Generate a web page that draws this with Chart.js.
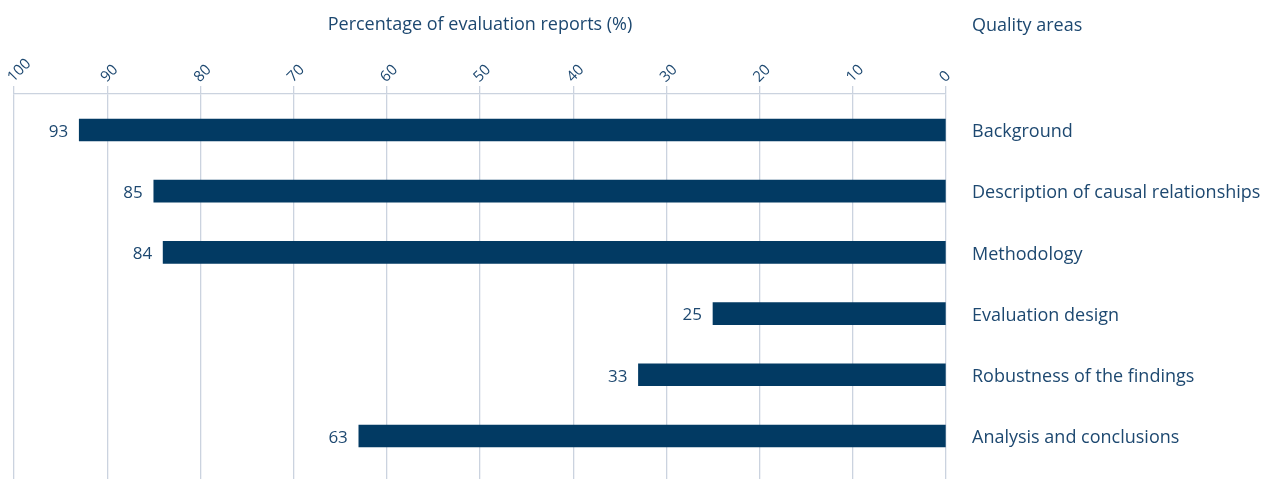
<!DOCTYPE html>
<html>
<head>
<meta charset="utf-8">
<script src="https://cdn.jsdelivr.net/npm/chart.js@4/dist/chart.umd.min.js"></script>
<style>
  body { margin: 0; background: #fff; }
  #wrap { width: 1261px; height: 479px; }
</style>
</head>
<body>
<div id="wrap"><canvas id="qualityChart" width="1261" height="479"></canvas></div>
<script>
// values
const categories = [
    'Background',
    'Description of causal relationships',
    'Methodology',
    'Evaluation design',
    'Robustness of the findings',
    'Analysis and conclusions'
];
const percentages = [93, 85, 84, 25, 33, 63];
const xTicks = [0, 10, 20, 30, 40, 50, 60, 70, 80, 90, 100];

const textColor = '#1d4870';
const barColor = '#023a63';
const gridColor = '#cbd3df';
const fontFamily = '"Open Sans", "Noto Sans", sans-serif';

// value labels next to the end of each bar + right-hand header
const barLabels = {
    id: 'barLabels',
    afterDatasetsDraw(chart) {
        const ctx = chart.ctx;
        const meta = chart.getDatasetMeta(0);
        ctx.save();
        ctx.fillStyle = textColor;
        ctx.font = '17px ' + fontFamily;
        ctx.textAlign = 'right';
        ctx.textBaseline = 'middle';
        meta.data.forEach((bar, i) => {
            ctx.fillText(String(percentages[i]), bar.x - 11, bar.y + 2);
        });
        ctx.textAlign = 'left';
        ctx.font = '18px ' + fontFamily;
        ctx.fillText('Quality areas', chart.chartArea.right + 26, 26);
        ctx.restore();
    }
};

const ctx = document.getElementById('qualityChart').getContext('2d');
new Chart(ctx, {
    type: 'bar',
    data: {
        datasets: [{
            data: percentages.map((v, i) => ({ x: v, y: i })),
            backgroundColor: barColor,
            barThickness: 22
        }]
    },
    options: {
        indexAxis: 'y',
        responsive: false,
        animation: false,
        layout: { padding: { left: 14, right: 0, top: 0, bottom: 0 } },
        plugins: {
            legend: { display: false },
            tooltip: { enabled: false }
        },
        scales: {
            x: {
                type: 'linear',
                position: 'top',
                reverse: true,
                min: 0,
                max: 100,
                afterBuildTicks: (scale) => { scale.ticks = xTicks.map(v => ({ value: v })); },
                afterFit: (scale) => {
                    scale.height = 94;
                    scale.paddingLeft = 0;
                    scale.paddingRight = 0;
                },
                ticks: {
                    color: textColor,
                    font: { family: fontFamily, size: 15 },
                    minRotation: 45,
                    maxRotation: 45,
                    padding: 0,
                    labelOffset: 9
                },
                grid: {
                    color: gridColor,
                    lineWidth: 1.3,
                    tickLength: 8
                },
                border: { display: true, color: gridColor, width: 1.3 },
                title: {
                    display: true,
                    text: 'Percentage of evaluation reports (%)',
                    color: textColor,
                    font: { family: fontFamily, size: 18 },
                    padding: { top: 14, bottom: 0 }
                }
            },
            y: {
                type: 'linear',
                position: 'right',
                reverse: true,
                offset: false,
                min: -0.588,
                max: 5.703,
                afterBuildTicks: (scale) => { scale.ticks = categories.map((c, i) => ({ value: i })); },
                afterFit: (scale) => {
                    scale.width = 315;
                    scale.paddingTop = 0;
                    scale.paddingBottom = 0;
                },
                ticks: {
                    color: textColor,
                    font: { family: fontFamily, size: 18 },
                    padding: 26,
                    labelOffset: 2,
                    callback: (v) => categories[v]
                },
                grid: { display: false, drawTicks: false, offset: false },
                border: { display: false }
            }
        }
    },
    plugins: [barLabels]
});
</script>
</body>
</html>
